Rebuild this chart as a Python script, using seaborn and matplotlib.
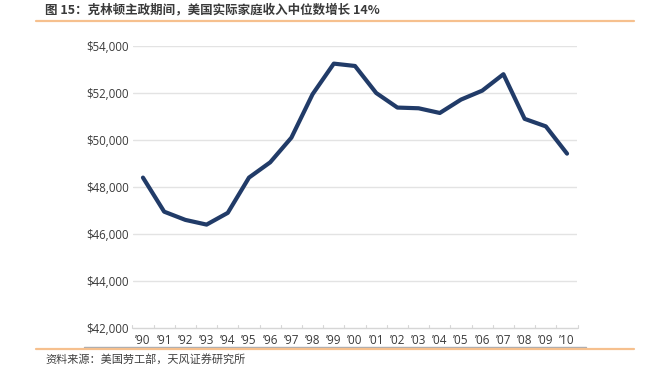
import matplotlib
matplotlib.use("Agg")
import matplotlib.pyplot as plt
import seaborn as sns
import pandas as pd
from matplotlib.ticker import FuncFormatter
from matplotlib.lines import Line2D

years = ["\u201990", "\u201991", "\u201992", "\u201993", "\u201994", "\u201995", "\u201996",
         "\u201997", "\u201998", "\u201999", "\u201900", "\u201901", "\u201902", "\u201903",
         "\u201904", "\u201905", "\u201906", "\u201907", "\u201908", "\u201909", "\u201910"]
income = [48400, 46950, 46600, 46400, 46900, 48400, 49050, 50100, 51950, 53250,
          53150, 52000, 51380, 51350, 51150, 51720, 52100, 52800, 50900, 50580, 49420]
y_ticks = [42000, 44000, 46000, 48000, 50000, 52000, 54000]

title = "图 15：克林顿主政期间，美国实际家庭收入中位数增长 14%"
source = "资料来源：美国劳工部，天风证券研究所"

sns.set_theme(style="white")
plt.rcParams['font.family'] = ['Open Sans', 'Noto Sans CJK SC', 'DejaVu Sans']

df = pd.DataFrame({"pos": range(len(years)), "income": income})

fig = plt.figure(figsize=(6.57, 3.66), dpi=100)
ax = fig.add_axes([133/657, (366-328)/366, (577-133)/657, (328-46)/366])

for t in y_ticks[1:]:
    ax.axhline(t, color="#e3e3e3", lw=1.0, zorder=0)

sns.lineplot(data=df, x="pos", y="income", ax=ax, color="#213b68", lw=3.0,
             solid_joinstyle="round", solid_capstyle="round", zorder=3)

ax.set_xlim(-0.47, len(years) - 0.53)
ax.set_ylim(42000, 54000)
ax.set_yticks(y_ticks)
ax.yaxis.set_major_formatter(FuncFormatter(lambda v, p: f"${int(v):,}"))
ax.set_xticks(range(len(years)))
ax.set_xticklabels(years)
ax.set_xlabel("")
ax.set_ylabel("")
for s in ["top", "right", "left"]:
    ax.spines[s].set_visible(False)
ax.spines["bottom"].set_color("#d6d6d6")
ax.spines["bottom"].set_linewidth(1.0)
ax.tick_params(axis="y", length=0, pad=3, labelsize=8.3, labelcolor="#3a3a3a")
ax.tick_params(axis="x", length=0, pad=4, labelsize=8.5, labelcolor="#3a3a3a")
# small ticks between categories
for i in range(len(years) + 1):
    ax.plot([i - 0.5, i - 0.5], [42000, 42000 + 120], color="#d6d6d6", lw=0.8,
            clip_on=False, zorder=1)

# orange rules
fig.add_artist(Line2D([36/657, 634/657], [1 - 21/366, 1 - 21/366], color="#f6c08e", lw=1.6))
fig.add_artist(Line2D([84/657, 586/657], [1 - 347/366, 1 - 347/366], color="#a9adb3", lw=1.0))
fig.add_artist(Line2D([36/657, 634/657], [1 - 349/366, 1 - 349/366], color="#f6c08e", lw=1.6))

fig.text(45/657, 1 - 10/366, title, fontsize=9.0, color="#3a3a3a", va="center", ha="left",
         family=['Noto Sans CJK SC', 'DejaVu Sans'], fontweight="bold")
fig.text(45/657, 1 - 359/366, source, fontsize=8.0, color="#404040", va="center", ha="left",
         family=['Noto Sans CJK SC', 'DejaVu Sans'])

fig.savefig("out.png", dpi=100)
